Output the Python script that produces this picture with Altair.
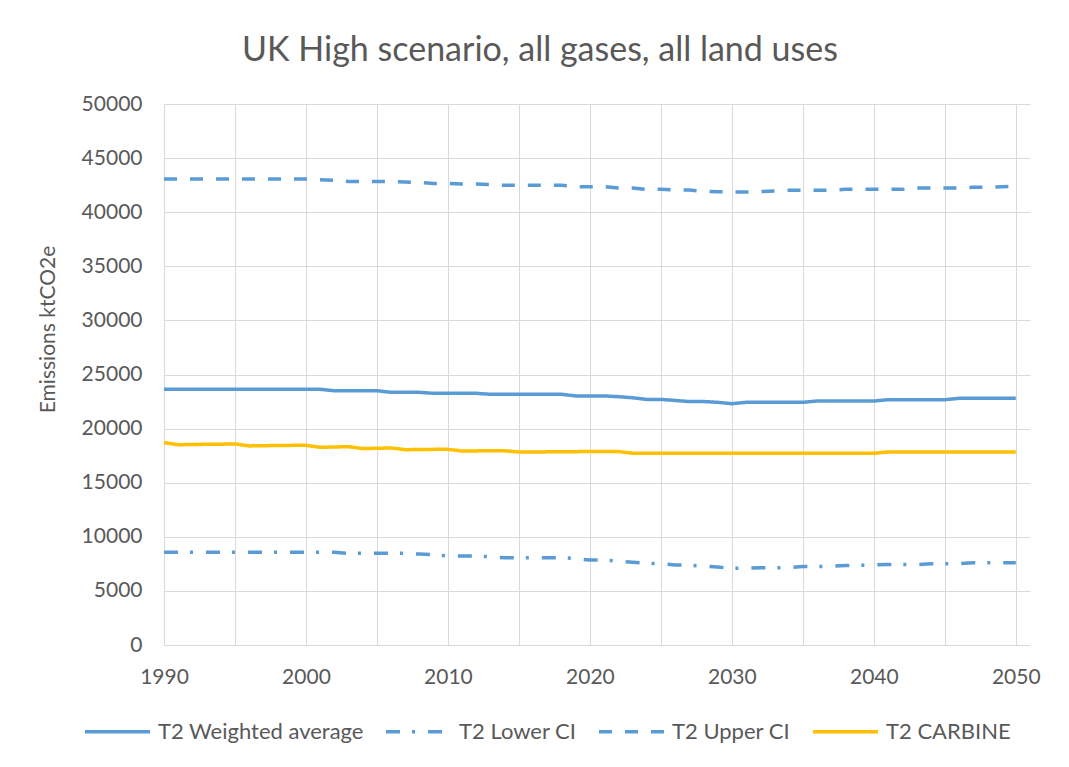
import altair as alt
import pandas as pd

years = list(range(1990, 2051))

weighted = [23630, 23630, 23630, 23630, 23630, 23630, 23630, 23630, 23630, 23630,
            23630, 23630, 23500, 23500, 23500, 23500, 23350, 23350, 23350, 23260,
            23260, 23260, 23260, 23170, 23170, 23170, 23170, 23170, 23170, 23020,
            23020, 23020, 22950, 22850, 22700, 22700, 22600, 22500, 22500, 22430,
            22300, 22430, 22430, 22430, 22430, 22430, 22550, 22550, 22550, 22550,
            22550, 22670, 22670, 22670, 22670, 22670, 22800, 22800, 22800, 22800,
            22800]

lower = [8570, 8570, 8570, 8570, 8570, 8570, 8570, 8570, 8570, 8570,
         8570, 8570, 8570, 8470, 8470, 8470, 8470, 8470, 8400, 8350,
         8230, 8230, 8230, 8150, 8070, 8070, 8070, 8070, 8070, 7980,
         7860, 7860, 7730, 7650, 7560, 7500, 7400, 7370, 7300, 7200,
         7080, 7100, 7150, 7150, 7150, 7250, 7250, 7280, 7340, 7370,
         7400, 7430, 7430, 7430, 7520, 7520, 7520, 7610, 7610, 7610,
         7610]

upper = [43070, 43070, 43070, 43070, 43070, 43070, 43070, 43070, 43070, 43070,
         43070, 43000, 42950, 42840, 42840, 42840, 42840, 42790, 42750, 42650,
         42650, 42600, 42600, 42560, 42480, 42480, 42480, 42480, 42480, 42360,
         42360, 42360, 42240, 42240, 42110, 42110, 42050, 42050, 41930, 41900,
         41870, 41870, 41900, 41950, 42020, 42020, 42020, 42020, 42110, 42110,
         42110, 42110, 42110, 42240, 42240, 42240, 42240, 42300, 42300, 42360,
         42380]

carbine = [18700, 18510, 18530, 18550, 18560, 18580, 18400, 18420, 18440, 18450,
           18450, 18270, 18300, 18330, 18150, 18180, 18210, 18050, 18070, 18080,
           18080, 17930, 17940, 17950, 17950, 17840, 17840, 17850, 17860, 17870,
           17880, 17890, 17880, 17720, 17720, 17720, 17720, 17720, 17720, 17720,
           17720, 17720, 17720, 17720, 17720, 17720, 17720, 17720, 17720, 17720,
           17720, 17840, 17840, 17840, 17840, 17840, 17840, 17840, 17840, 17840,
           17840]

series_names = ["T2 Weighted average", "T2 Lower CI", "T2 Upper CI", "T2 CARBINE"]
series_colors = ["#5b9bd5", "#5b9bd5", "#5b9bd5", "#ffc000"]
series_dashes = [[1, 0], [14, 12, 3, 13], [13, 13], [1, 0]]

y_ticks = [0, 5000, 10000, 15000, 20000, 25000, 30000, 35000, 40000, 45000, 50000]
x_grid = [1990, 1995, 2000, 2005, 2010, 2015, 2020, 2025, 2030, 2035, 2040, 2045, 2050]

rows = []
for name, vals in zip(series_names, [weighted, lower, upper, carbine]):
    for yr, v in zip(years, vals):
        rows.append({"Year": yr, "Value": v, "Series": name})
df = pd.DataFrame(rows)

FONT = "Lato"
TXT = "#595959"

legend = alt.Legend(
    title=None,
    orient="none",
    legendX=-81,
    legendY=593,
    direction="horizontal",
    columns=4,
    symbolType="stroke",
    symbolSize=4225,
    symbolStrokeWidth=3.5,
    labelFont=FONT,
    labelFontSize=22,
    labelColor=TXT,
    labelOffset=6,
    columnPadding=15,
    labelLimit=400,
)

chart = alt.Chart(df).mark_line(strokeWidth=3.5).encode(
    x=alt.X("Year:Q",
            scale=alt.Scale(domain=[1990, 2051], nice=False, zero=False),
            axis=alt.Axis(values=x_grid, format="d", title=None,
                          labelExpr="datum.value % 10 == 0 ? datum.label : ''",
                          labelPadding=21, ticks=False, domain=False,
                          labelFlush=False)),
    y=alt.Y("Value:Q",
            scale=alt.Scale(domain=[0, 50000], nice=False),
            axis=alt.Axis(values=y_ticks, format="d", title="Emissions ktCO2e",
                          labelPadding=22, ticks=False, domain=False,
                          titleX=-116, titleY=225, titleAngle=-90,
                          titleAlign="center", titleBaseline="middle",
                          titleFont=FONT, titleFontSize=21,
                          titleFontWeight="normal", titleColor=TXT)),
    color=alt.Color("Series:N",
                    scale=alt.Scale(domain=series_names, range=series_colors),
                    legend=legend),
    strokeDash=alt.StrokeDash("Series:N",
                              scale=alt.Scale(domain=series_names, range=series_dashes),
                              legend=legend),
    detail="Series:N",
).properties(
    width=866,
    height=541,
    title=alt.TitleParams(
        text="UK High scenario, all gases, all land uses",
        font=FONT, fontSize=34, fontWeight="normal", color=TXT,
        anchor="middle", dx=-57, offset=25,
    ),
    autosize=alt.AutoSizeParams(type="none"),
    padding={"left": 156, "top": 96, "right": 31, "bottom": 118},
).configure_axis(
    labelFont=FONT,
    labelFontSize=21,
    labelColor=TXT,
    gridColor="#d9d9d9",
    gridWidth=1,
).configure_view(
    stroke=None,
)

chart.save("out.html", embed_options={"renderer": "svg", "actions": False})
